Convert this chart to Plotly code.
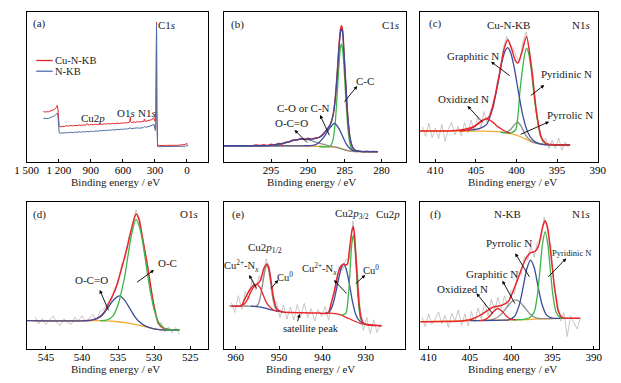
import plotly.graph_objects as go

W, H = 621, 383

# ================= DATA (binding energy eV, intensity in arbitrary units 0-100 per panel) =================
# (a) survey spectra
survey_cu = [(1345, 33.6), (1330, 33.2), (1315, 33.5), (1300, 33.3), (1285, 33.7), (1270, 34.0), (1255, 34.4),
             (1240, 35.0), (1228, 35.9), (1220, 36.8), (1214, 37.6), (1208, 35.2), (1202, 27.0), (1196, 23.6),
             (1185, 23.4), (1170, 23.8), (1150, 23.6), (1130, 24.1), (1110, 23.8), (1090, 24.3), (1070, 24.0),
             (1050, 24.4), (1030, 24.2), (1010, 24.6), (990, 24.3), (970, 24.7), (950, 24.5), (940, 25.0),
             (934, 25.6), (928, 24.9), (915, 24.6), (895, 25.0), (875, 24.8), (855, 25.1), (835, 24.9),
             (815, 25.3), (795, 25.0), (775, 25.4), (755, 25.2), (735, 25.6), (715, 25.3), (695, 25.7),
             (675, 25.5), (655, 25.9), (635, 25.6), (615, 26.0), (595, 25.8), (575, 26.2), (555, 26.0),
             (540, 26.4), (534, 27.5), (531, 29.8), (528, 27.0), (520, 26.3), (505, 26.6), (485, 26.4),
             (465, 26.8), (445, 26.6), (425, 27.0), (410, 26.9), (402, 27.2), (399, 28.6), (396, 27.4),
             (390, 27.0), (375, 27.3), (360, 27.5), (345, 27.8), (330, 28.2), (318, 28.8), (310, 29.5),
             (302, 27.2), (296, 28.0), (291, 33.0), (288, 55.0), (286, 82.0), (285, 93.0), (284, 72.0),
             (282, 35.0), (279, 12.5), (275, 11.2), (260, 11.0), (240, 11.2), (210, 11.0), (180, 11.1),
             (150, 11.0), (120, 11.2), (90, 11.1), (60, 11.3), (30, 11.4), (15, 11.7), (8, 12.2),
             (3, 12.6), (-2, 11.6), (-8, 11.0)]
survey_n = [(1345, 29.1), (1330, 28.8), (1315, 29.0), (1300, 28.9), (1285, 29.3), (1270, 29.6), (1255, 30.1),
            (1240, 30.7), (1228, 31.5), (1220, 32.2), (1214, 32.6), (1208, 30.5), (1202, 22.5), (1196, 19.3),
            (1185, 19.1), (1170, 19.4), (1150, 19.2), (1130, 19.6), (1110, 19.4), (1090, 19.8), (1070, 19.5),
            (1050, 19.9), (1030, 19.7), (1010, 20.1), (990, 19.8), (970, 20.2), (950, 20.0), (935, 20.3),
            (915, 20.1), (895, 20.5), (875, 20.3), (855, 20.7), (835, 20.5), (815, 20.9), (795, 20.7),
            (775, 21.1), (755, 20.9), (735, 21.3), (715, 21.1), (695, 21.5), (675, 21.3), (655, 21.7),
            (635, 21.5), (615, 21.9), (595, 21.7), (575, 22.1), (555, 21.9), (540, 22.3), (531, 22.8),
            (525, 22.2), (505, 22.5), (485, 22.3), (465, 22.7), (445, 22.5), (425, 22.9), (410, 22.8),
            (399, 23.6), (390, 23.1), (375, 23.3), (360, 23.6), (345, 23.8), (330, 24.0), (318, 24.6),
            (310, 25.2), (302, 23.0), (296, 21.0), (291, 30.0), (288, 52.0), (286, 80.0), (285, 92.0),
            (284, 70.0), (282, 30.0), (279, 11.0), (275, 10.3), (260, 10.2), (220, 10.2), (180, 10.1),
            (140, 10.2), (100, 10.1), (60, 10.2), (30, 10.3), (15, 10.5), (8, 10.9), (3, 11.2),
            (-2, 10.6), (-8, 10.2)]

# (b) C1s
c1s_background = [(301.4, 10.8), (295, 10.8), (292, 10.7), (290, 10.6), (289, 10.4), (288, 10.3), (287, 10.1),
                  (286.4, 9.9), (286, 9.6), (285.5, 8.8), (285, 8.0), (284.5, 7.4), (284, 7.1), (283, 6.9),
                  (280.5, 6.9)]
c1s_oco = [(301.4, 10.8), (297, 10.8), (295, 11.1), (294, 11.5), (293, 12.7), (292, 14.2), (291, 15.0),
           (290.5, 15.1), (290, 14.8), (289, 13.3), (288, 11.8), (287, 10.6), (286, 9.7), (285, 8.0),
           (284, 7.1), (283, 6.9), (280.5, 6.9)]
c1s_co = [(301.4, 10.8), (292, 10.7), (290, 10.8), (289, 11.4), (288.5, 13.0), (288, 15.5), (287.5, 19.0),
          (287, 22.8), (286.4, 25.7), (285.8, 22.4), (285.3, 17.1), (284.8, 12.1), (284.3, 8.9), (283.8, 7.5),
          (283, 7.0), (280.5, 6.9)]
c1s_cc = [(288.5, 10.3), (287.5, 10.0), (287, 10.3), (286.6, 14.5), (286.3, 25.8), (286.0, 47.0), (285.8, 63.4),
          (285.6, 75.4), (285.45, 78.5), (285.3, 75.2), (285.1, 62.9), (284.9, 46.1), (284.6, 24.0),
          (284.3, 12.1), (283.9, 7.6), (283, 7.0), (280.5, 6.9)]
c1s_fit = [(301.4, 10.8), (295, 11.1), (293, 12.8), (292, 14.3), (291, 15.2), (290, 15.1), (289, 15.6),
           (288.5, 16.3), (288, 18.0), (287.5, 21.0), (287, 24.5), (286.6, 30.5), (286.3, 41.0), (286.0, 60.0),
           (285.8, 74.5), (285.6, 85.5), (285.45, 88.5), (285.3, 86.5), (285.1, 72.0), (284.9, 55.0),
           (284.6, 31.0), (284.3, 16.5), (283.9, 9.5), (283.5, 7.6), (283, 7.1), (280.5, 6.9)]
c1s_raw = [(297.5, 10.9), (297, 11.4), (296.5, 10.8), (296, 11.5), (295.5, 11.0), (295, 11.8), (294.5, 11.3),
           (294, 12.3), (293.5, 12.0), (293, 13.2), (292.5, 13.4), (292, 14.6), (291.5, 14.5), (291, 15.6),
           (290.5, 15.0), (290, 15.8), (289.5, 15.2), (289, 16.0), (288.5, 16.4), (288, 18.3), (287.5, 21.2),
           (287, 24.6), (286.6, 31.0), (286.3, 42.0), (286, 61.0), (285.8, 76.0), (285.6, 87.5),
           (285.45, 90.5), (285.3, 88.0), (285.1, 72.5), (284.9, 55.5), (284.6, 31.0), (284.3, 16.5),
           (283.9, 9.3), (283.5, 7.5), (283, 7.2), (282.5, 6.8), (282, 7.1), (281.5, 6.9), (281, 7.0),
           (280.5, 6.8)]

# (c) N1s Cu-N-KB
n1s_cu_raw = [(411.6, 23.5), (411.2, 17.0), (410.8, 25.8), (410.4, 16.2), (410.0, 22.4), (409.6, 15.5),
              (409.2, 24.9), (408.8, 13.8), (408.4, 21.7), (408.0, 26.3), (407.6, 18.1), (407.2, 23.6),
              (406.8, 17.4), (406.4, 26.1), (406.0, 19.3), (405.6, 27.8), (405.2, 20.4), (404.8, 30.2),
              (404.4, 23.1), (404.0, 33.5), (403.6, 25.9), (403.2, 34.8), (402.8, 36.0), (402.4, 52.8),
              (402.0, 59.4), (401.6, 76.1), (401.2, 83.5), (400.8, 78.2), (400.4, 75.3), (400.0, 69.8),
              (399.6, 66.1), (399.2, 80.2), (398.8, 86.5), (398.4, 74.2), (398.0, 59.1), (397.6, 33.2),
              (397.2, 24.0), (396.8, 12.6), (396.4, 15.7), (396.0, 8.9), (395.6, 14.6), (395.2, 9.0),
              (394.8, 15.9), (394.4, 7.8), (394.0, 13.2), (393.6, 9.6)]
n1s_cu_background = [(411.9, 20.6), (404, 20.5), (402, 20.0), (401, 19.2), (400, 17.8), (399, 15.5),
                     (398, 13.2), (397, 11.9), (396, 11.4), (393.4, 11.3)]
n1s_cu_oxidized = [(407, 20.6), (406, 21.2), (405.2, 23.5), (404.5, 26.5), (403.75, 28.6), (403, 26.8),
                   (402.3, 23.5), (401.5, 20.8), (400.8, 19.0)]
n1s_cu_pyrrolic = [(401.8, 19.6), (401.2, 19.9), (400.7, 21.8), (400.3, 24.5), (399.84, 26.4), (399.4, 23.5),
                   (399.0, 19.0), (398.5, 15.3), (398, 13.2), (397, 11.9), (396, 11.4), (393.4, 11.3)]
n1s_cu_graphitic = [(407, 20.8), (405.5, 21.3), (404.5, 22.3), (403.7, 24.8), (403.0, 34.5), (402.4, 49.2),
                    (401.8, 66.3), (401.4, 73.9), (401.08, 76.0), (400.7, 72.2), (400.3, 63.2), (399.8, 47.8),
                    (399.2, 30.3), (398.6, 19.6), (398.0, 14.6), (397.2, 12.2), (396.5, 11.6), (395, 11.4),
                    (393.4, 11.3)]
n1s_cu_pyridinic = [(402, 19.8), (401.5, 19.3), (400.6, 19.5), (400.1, 21.5), (399.8, 32.0), (399.6, 45.7),
                    (399.3, 60.0), (399.0, 71.5), (398.77, 75.6), (398.5, 72.0), (398.2, 62.0), (397.77, 41.3),
                    (397.4, 27.0), (397.0, 16.8), (396.5, 12.5), (396, 11.6), (395, 11.4), (393.4, 11.3)]
n1s_cu_fit = [(411.9, 20.6), (408, 20.8), (406.5, 21.6), (405.3, 23.5), (404.6, 26.0), (404.1, 27.9),
              (403.75, 28.6), (403.3, 30.5), (402.95, 36.8), (402.55, 46.0), (402.16, 56.8), (401.56, 74.5),
              (401.08, 81.2), (400.56, 74.5), (400.15, 67.5), (399.84, 65.7), (399.37, 72.3), (398.77, 83.4),
              (398.17, 63.4), (397.57, 34.6), (396.98, 16.8), (396.38, 12.4), (395.5, 11.5), (393.4, 11.3)]

# (d) O1s
o1s_raw = [(546.5, 21.8), (546.0, 17.1), (545.5, 20.6), (545.0, 16.5), (544.5, 19.9), (544.0, 22.3),
           (543.5, 17.8), (543.0, 15.9), (542.5, 20.4), (542.0, 18.0), (541.5, 16.7), (541.0, 21.5),
           (540.5, 19.1), (540.0, 22.6), (539.5, 18.3), (539.0, 20.9), (538.5, 23.4), (538.0, 19.2),
           (537.5, 25.7), (537.0, 27.1), (536.5, 30.8), (536.0, 31.2), (535.5, 41.5), (535.0, 44.0),
           (534.5, 57.6), (534.0, 61.9), (533.5, 76.8), (533.0, 82.0), (532.5, 94.5), (532.0, 88.1),
           (531.5, 71.2), (531.0, 60.8), (530.5, 39.3), (530.0, 30.4), (529.5, 17.1), (529.0, 17.9),
           (528.5, 11.5), (528.0, 15.0), (527.5, 10.9), (527.0, 14.6), (526.5, 9.8)]
o1s_background = [(547.7, 19.2), (538, 19.2), (537, 19.1), (536, 18.9), (535, 18.5), (534, 17.9), (533, 17.0),
                  (532, 16.0), (531, 14.9), (530, 13.6), (529, 13.0), (528, 12.9), (526.5, 12.9)]
o1s_oco = [(547.7, 19.2), (539.5, 19.2), (538.5, 19.7), (537.5, 21.8), (536.8, 25.3), (536.2, 29.5),
           (535.5, 33.9), (534.8, 36.0), (534.1, 33.2), (533.4, 27.8), (532.8, 22.9), (532.1, 18.6),
           (531.1, 15.3), (530, 13.6), (529, 13.0), (526.5, 12.9)]
o1s_oc = [(537.5, 19.2), (536.5, 19.7), (535.7, 22.5), (535, 30.0), (534.3, 44.0), (534.0, 51.4), (533.7, 61.0),
          (533.1, 78.5), (532.5, 88.0), (531.9, 80.5), (531.3, 63.5), (530.7, 44.2), (530, 26.8), (529.3, 17.5),
          (528.5, 13.8), (527.5, 12.9), (526.5, 12.9)]
o1s_fit = [(546.6, 19.2), (540, 19.2), (538.5, 19.7), (537.5, 22.0), (536.8, 25.8), (536.3, 31.0), (535.4, 40.1),
           (534.5, 54.8), (533.6, 71.8), (532.95, 85.3), (532.5, 91.6), (532.1, 88.0), (531.8, 80.8),
           (530.9, 55.9), (530.0, 28.7), (529.4, 17.4), (528.7, 14.1), (527.5, 13.0), (526.5, 12.9)]

# (e) Cu2p
cu2p_raw = [(961.0, 31.5), (960.2, 24.8), (959.4, 36.2), (958.6, 27.0), (957.8, 38.9), (957.0, 33.4),
            (956.2, 47.5), (955.4, 40.1), (954.6, 49.8), (953.8, 46.3), (953.0, 61.2), (952.2, 55.0),
            (951.4, 33.2), (950.6, 31.9), (949.8, 21.4), (949.0, 29.8), (948.2, 20.3), (947.4, 28.5),
            (946.6, 19.6), (945.8, 30.2), (945.0, 22.1), (944.2, 31.0), (943.4, 21.3), (942.6, 27.4),
            (941.8, 18.9), (941.0, 26.8), (940.2, 22.0), (939.4, 28.7), (938.6, 19.5), (937.8, 34.1),
            (937.0, 38.6), (936.2, 55.9), (935.4, 53.2), (934.6, 60.8), (933.8, 61.5), (933.0, 86.9),
            (932.2, 64.8), (931.4, 30.3), (930.6, 12.7), (929.8, 21.5), (929.0, 10.4), (928.2, 19.8),
            (927.4, 11.2), (926.6, 17.3)]
cu2p_bg_high = [(956.5, 29.1), (955, 28.7), (953.5, 27.9), (952, 26.8), (950.5, 25.8), (949, 25.3)]
cu2p_bg_low = [(938.7, 24.3), (937, 24.0), (935.8, 23.1), (934.2, 21.0), (932.7, 19.0), (931.3, 17.4),
               (930.5, 16.9), (928, 16.2), (926.4, 15.8)]
cu2p_cu0_half = [(961.5, 29.2), (958, 29.2), (956, 29.0), (955.5, 28.9), (954.8, 30.5), (954.2, 37.0),
                 (953.6, 47.5), (953.2, 54.0), (952.8, 57.0), (952.4, 54.0), (952, 46.0), (951.4, 34.0),
                 (950.8, 27.5), (950, 25.7)]
cu2p_cun_half = [(959, 29.2), (958, 30.5), (957.3, 33.5), (956.6, 38.0), (956, 41.5), (955.2, 43.9),
                 (954.4, 41.8), (953.7, 37.0), (953, 32.0), (952.2, 28.8), (951.3, 26.5), (950.5, 25.8)]
cu2p_cun_32 = [(939.5, 24.4), (938.5, 25.0), (937.8, 28.5), (937.1, 36.0), (936.4, 46.0), (935.7, 54.5),
               (935.1, 57.6), (934.5, 54.0), (933.8, 44.0), (933.1, 32.5), (932.4, 24.0), (931.7, 20.0),
               (930.7, 17.5), (929.5, 16.5)]
cu2p_cu0_32 = [(935.5, 23.0), (934.6, 24.3), (934.0, 37.5), (933.6, 55.4), (933.25, 71.0), (932.9, 77.4),
               (932.55, 70.3), (932.2, 53.8), (931.8, 35.0), (931.2, 20.3), (930.4, 17.0), (929.5, 16.5)]
cu2p_fit = [(961, 29.2), (958.7, 29.3), (958, 33.3), (957.2, 38.0), (956.5, 41.2), (955.8, 43.5), (955.2, 43.9),
            (954.7, 45.0), (954.3, 46.8), (953.9, 50.5), (953.5, 54.8), (952.8, 57.7), (952.4, 55.5),
            (952, 49.1), (951.3, 35.5), (950.6, 27.6), (949.5, 25.3), (947, 24.8), (944.6, 24.6), (941, 24.4),
            (938.7, 24.4), (938, 31.0), (937.2, 40.1), (936.5, 50.2), (935.8, 56.0), (935.1, 57.7),
            (934.6, 57.0), (934.2, 58.0), (933.8, 67.0), (933.5, 74.0), (933.2, 80.5), (932.9, 83.0),
            (932.6, 77.0), (932.4, 67.2), (931.9, 44.6), (931.6, 32.0), (931.3, 24.2), (930.9, 19.5),
            (930.5, 17.4), (929.5, 16.3), (926.4, 15.8)]

# (f) N1s N-KB
n1s_n_raw = [(410.8, 21.7), (410.4, 15.2), (410.0, 23.9), (409.6, 16.8), (409.2, 20.5), (408.8, 25.1),
             (408.4, 17.3), (408.0, 22.8), (407.6, 14.6), (407.2, 24.3), (406.8, 19.0), (406.4, 26.4),
             (406.0, 16.1), (405.6, 23.8), (405.2, 15.7), (404.8, 25.5), (404.4, 18.2), (404.0, 27.9),
             (403.6, 20.3), (403.2, 31.6), (402.8, 22.5), (402.4, 33.7), (402.0, 26.0), (401.6, 35.2),
             (401.2, 27.4), (400.8, 36.1), (400.4, 28.6), (400.0, 39.8), (399.6, 37.5), (399.2, 52.0),
             (398.8, 50.1), (398.4, 62.7), (398.0, 60.3), (397.6, 69.8), (397.2, 62.4), (396.8, 72.9),
             (396.4, 74.1), (396.0, 89.6), (395.6, 80.2), (395.2, 70.8), (394.8, 41.3), (394.4, 32.4),
             (394.0, 18.9), (393.6, 24.6), (393.2, 8.5), (392.8, 22.5), (392.4, 18.0), (392.0, 13.5),
             (391.6, 21.0)]
n1s_n_background = [(411, 18.6), (405, 19.2), (401, 19.6), (398, 20.0), (396, 20.5), (394, 20.8), (391.6, 20.8)]
n1s_n_oxidized = [(403.8, 19.3), (403.2, 19.9), (402.7, 21.7), (402.2, 25.0), (401.61, 27.5), (401.0, 25.1),
                  (400.5, 21.9), (400, 20.2), (399.4, 19.8)]
n1s_n_graphitic = [(403, 19.4), (402, 20.5), (401.2, 23.5), (400.5, 28.4), (399.9, 32.3), (399.47, 33.3),
                   (399.0, 32.2), (398.4, 28.5), (397.7, 23.8), (397.0, 21.2), (396, 20.6), (395, 20.7)]
n1s_n_pyrrolic = [(405, 19.2), (401, 19.6), (400.3, 19.8), (399.6, 22.1), (399.0, 30.1), (398.5, 43.3),
                  (398.1, 54.5), (397.64, 60.4), (397.2, 55.2), (396.8, 44.3), (396.3, 31.1), (395.7, 23.0),
                  (395.0, 20.9), (394, 20.8)]
n1s_n_pyridinic = [(400, 19.8), (398.5, 20.1), (397.8, 21.0), (397.2, 25.2), (396.8, 37.5), (396.5, 54.0),
                   (396.2, 71.3), (395.88, 79.6), (395.55, 70.8), (395.25, 53.4), (394.95, 37.1), (394.55, 25.0),
                   (394.0, 21.1), (393.5, 20.8)]
n1s_n_fit = [(411, 18.5), (408, 18.6), (406, 19.0), (405, 19.8), (404.54, 20.8), (404, 22.2), (403.37, 24.2),
             (402.7, 26.8), (402.2, 28.4), (401.61, 29.0), (401.1, 29.8), (400.64, 31.0), (400.2, 33.5),
             (399.86, 37.8), (399.5, 43.0), (399.09, 49.1), (398.7, 55.0), (398.3, 60.4), (397.9, 64.0),
             (397.64, 65.4), (397.3, 65.8), (396.94, 67.2), (396.6, 71.5), (396.35, 78.5), (396.1, 84.5),
             (395.88, 87.1), (395.6, 83.0), (395.38, 74.0), (395.1, 60.0), (394.8, 44.6), (394.55, 34.5),
             (394.33, 26.5), (394.05, 23.0), (393.82, 21.3), (393, 20.9), (391.67, 20.8)]

# tick labels
ticks_a = ([1500, 1200, 900, 600, 300, 0], ["1 500", "1 200", "900", "600", "300", "0"])
ticks_b = ([295, 290, 285, 280], ["295", "290", "285", "280"])
ticks_c = ([410, 405, 400, 395, 390], ["410", "405", "400", "395", "390"])
ticks_d = ([545, 540, 535, 530, 525], ["545", "540", "535", "530", "525"])
ticks_e = ([960, 950, 940, 930], ["960", "950", "940", "930"])
ticks_f = ([410, 405, 400, 395, 390], ["410", "405", "400", "395", "390"])

# ================= STYLE / LAYOUT =================
RED = '#e8262b'
BLUE = '#3b4a99'
GREEN = '#3cb54a'
GREY = '#8c8c8c'
RAW = '#b9b9b9'
ORANGE = '#f2aa33'
SBLUE = '#4d6fa8'
FONT = 'Liberation Serif'

# panel frames in pixels: (x0, x1), (y0, y1), x range
frames = [
    ((15, 203), (11.7, 162), (1502, -201), ticks_a),
    ((219, 407), (11.5, 162), (301.4, 276.7), ticks_b),
    ((421.5, 606), (11.5, 162), (411.9, 389.9), ticks_c),
    ((15, 202.7), (201.7, 349), (547.7, 522.5), ticks_d),
    ((219, 406), (201.7, 349), (962.7, 921.0), ticks_e),
    ((421.5, 607), (201.7, 349), (411.05, 389.3), ticks_f),
]

fig = go.Figure()


def add(panel, pairs, color, width=1.3, shape='spline'):
    xs = [p[0] for p in pairs]
    ys = [p[1] for p in pairs]
    sfx = '' if panel == 0 else str(panel + 1)
    fig.add_trace(go.Scatter(x=xs, y=ys, mode='lines', xaxis='x' + sfx, yaxis='y' + sfx,
                             line=dict(color=color, width=width, shape=shape,
                                       smoothing=0.7 if shape == 'spline' else None),
                             showlegend=False, hoverinfo='skip'))


# (a)
add(0, survey_cu, RED, 1.0, 'linear')
add(0, survey_n, SBLUE, 1.0, 'linear')
# (b)
add(1, c1s_background, ORANGE)
add(1, c1s_oco, GREY)
add(1, c1s_cc, GREEN)
add(1, c1s_co, BLUE)
add(1, c1s_raw, RED, 1.4)
add(1, c1s_fit, BLUE)
# (c)
add(2, n1s_cu_raw, RAW, 0.8, 'linear')
add(2, n1s_cu_background, ORANGE)
add(2, n1s_cu_pyrrolic, GREY)
add(2, n1s_cu_pyridinic, GREEN)
add(2, n1s_cu_graphitic, BLUE)
add(2, n1s_cu_oxidized, RED)
add(2, n1s_cu_fit, RED, 1.5)
# (d)
add(3, o1s_raw, RAW, 0.8, 'linear')
add(3, o1s_fit, RED, 1.5)
add(3, o1s_background, ORANGE)
add(3, o1s_oco, BLUE)
add(3, o1s_oc, GREEN)
# (e)
add(4, cu2p_raw, RAW, 0.8, 'linear')
add(4, cu2p_bg_low, RED)
add(4, cu2p_cu0_half, GREY)
add(4, cu2p_bg_high, BLUE)
add(4, cu2p_cun_half, RED)
add(4, cu2p_cun_32, BLUE)
add(4, cu2p_cu0_32, GREEN)
add(4, cu2p_fit, RED, 1.5)
# (f)
add(5, n1s_n_raw, RAW, 0.8, 'linear')
add(5, n1s_n_background, ORANGE)
add(5, n1s_n_graphitic, GREY)
add(5, n1s_n_pyrrolic, BLUE)
add(5, n1s_n_pyridinic, GREEN)
add(5, n1s_n_oxidized, RED)
add(5, n1s_n_fit, RED, 1.5)

layout = dict(width=W, height=H, margin=dict(l=0, r=0, t=0, b=0),
              paper_bgcolor='white', plot_bgcolor='white', showlegend=False)
for i, ((x0, x1), (y0, y1), xr, (tv, tt)) in enumerate(frames):
    sfx = '' if i == 0 else str(i + 1)
    layout['xaxis' + sfx] = dict(domain=[x0 / W, x1 / W], range=list(xr), anchor='y' + sfx,
                                 showline=True, mirror=True, linecolor='black', linewidth=1.3,
                                 ticks='inside', ticklen=3, tickwidth=1, tickcolor='black',
                                 tickvals=tv, ticktext=tt, showgrid=False, zeroline=False,
                                 ticklabelstandoff=-2,
                                 tickfont=dict(family=FONT, size=11, color='black'))
    layout['yaxis' + sfx] = dict(domain=[1 - y1 / H, 1 - y0 / H], range=[0, 100], anchor='x' + sfx,
                                 showline=True, mirror=True, linecolor='black', linewidth=1.3,
                                 showticklabels=False, ticks='', showgrid=False, zeroline=False)
fig.update_layout(**layout)


def txt(x, y, s, size=11, xanchor='center'):
    fig.add_annotation(x=x / W, y=1 - y / H, xref='paper', yref='paper', text=s, showarrow=False,
                       font=dict(family=FONT, size=size, color='#1a1a1a'), xanchor=xanchor, yanchor='middle',
                       borderpad=0)


def arrow(hx, hy, tx, ty):
    fig.add_annotation(x=hx / W, y=1 - hy / H, xref='paper', yref='paper', ax=tx - hx, ay=ty - hy,
                       axref='pixel', ayref='pixel', text='', showarrow=True, arrowhead=2, arrowsize=0.8,
                       arrowwidth=0.9, arrowcolor='black', standoff=0, startstandoff=0)


# axis titles
for cx, cy in [(107, 182), (309, 182), (517, 182), (107, 368.5), (308, 368.5), (517, 368.5)]:
    txt(cx, cy, 'Binding energy / eV', 11)

# (a)
txt(28, 24, '(a)')
txt(160, 25, 'C1<i>s</i>')
fig.add_shape(type='line', xref='paper', yref='paper', x0=25 / W, x1=42 / W, y0=1 - 60.5 / H, y1=1 - 60.5 / H,
              line=dict(color=RED, width=1.3))
fig.add_shape(type='line', xref='paper', yref='paper', x0=25 / W, x1=42 / W, y0=1 - 71.2 / H, y1=1 - 71.2 / H,
              line=dict(color=SBLUE, width=1.3))
txt(43.5, 60.5, 'Cu-N-KB', 10.5, 'left')
txt(43.5, 71.2, 'N-KB', 10.5, 'left')
txt(84, 118, 'Cu2<i>p</i>')
txt(118, 113, 'O1<i>s</i>')
txt(140, 113, 'N1<i>s</i>')

# (b)
txt(233, 25, '(b)')
txt(391, 25, 'C1<i>s</i>')
txt(365, 81, 'C-C')
arrow(356.7, 86, 342.7, 103.3)
txt(301, 108.3, 'C-O or C-N')
arrow(318.3, 115, 328.3, 136.7)
txt(289, 123.3, 'O-C=O')
arrow(292, 130, 306, 144)

# (c)
txt(437.5, 24, '(c)')
txt(513.3, 25, 'Cu-N-KB')
txt(587.5, 25, 'N1<i>s</i>')
txt(476, 56, 'Graphitic N')
arrow(495, 61.7, 515, 76.7)
txt(573.3, 74, 'Pyridinic N')
arrow(550, 85, 535, 96.7)
txt(467, 99, 'Oxidized N')
arrow(470.7, 106, 487.3, 124)
txt(576.7, 115, 'Pyrrolic N')
arrow(555, 121.7, 525, 135)

# (d)
txt(28.3, 214, '(d)')
txt(183, 214, 'O1<i>s</i>')
txt(161, 262.7, 'O-C')
arrow(146.7, 270, 128.3, 283.3)
txt(82, 280, 'O-C=O')
arrow(90.7, 290, 100, 311.7)

# (e)
txt(234.2, 214, '(e)')
txt(351.7, 214, 'Cu2<i>p</i><sub>3/2</sub>')
txt(388.7, 214, 'Cu2<i>p</i>')
txt(261.7, 248.3, 'Cu2<i>p</i><sub>1/2</sub>')
txt(237.5, 266, 'Cu<sup>2+</sup>-N<sub><i>x</i></sub>', 10.5)
arrow(245, 275, 253.3, 290)
txt(281.7, 276, 'Cu<sup>0</sup>', 10.5)
arrow(275, 280, 266.7, 290)
txt(317.5, 269.3, 'Cu<sup>2+</sup>-N<sub><i>x</i></sub>', 10.5)
arrow(332.7, 280, 346.7, 295)
txt(370.8, 269.3, 'Cu<sup>0</sup>', 10.5)
arrow(365, 275, 354, 285)
txt(308.8, 328.3, 'satellite peak', 10.5)
arrow(297.3, 314, 294.7, 322.7)

# (f)
txt(437.5, 214, '(f)')
txt(512.5, 214, 'N-KB')
txt(587.5, 214, 'N1<i>s</i>')
txt(514, 242.7, 'Pyrrolic N')
arrow(520, 253.3, 535, 278.3)
txt(496, 274, 'Graphitic N')
arrow(506.7, 280.7, 520, 305)
txt(466, 289, 'Oxidized N')
arrow(480, 293.3, 497.3, 315)
txt(578.3, 252.7, 'Pyridinic N', 8.5)
arrow(572.7, 258.3, 553.3, 278.3)

# remove the default 8px page margin so the 621x383 figure fills the window exactly
fig.write_html('out.html', config={'displayModeBar': False},
               post_script="document.body.style.margin='0';document.body.style.overflow='hidden';")
